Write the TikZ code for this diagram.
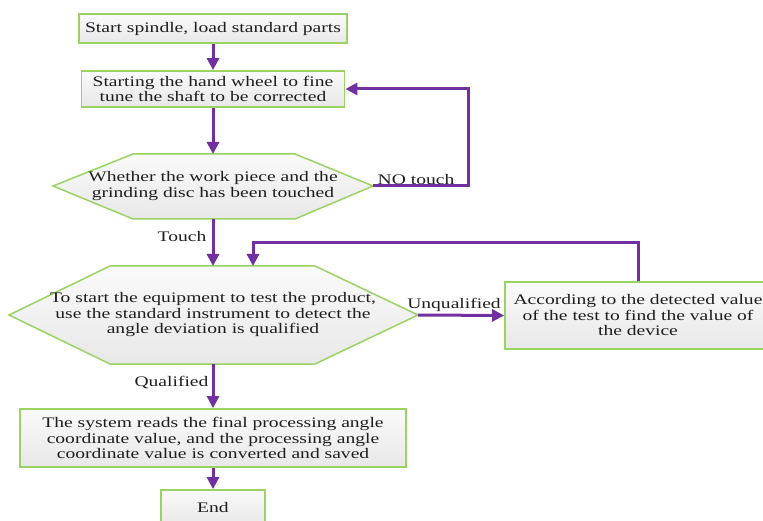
\documentclass[tikz,border=0pt]{standalone}
\usepackage{fontspec}
\setmainfont{Liberation Serif}[FakeStretch=1.34]
\usetikzlibrary{arrows.meta}
\definecolor{boxgreen}{RGB}{155,210,100}
\definecolor{flowpurple}{RGB}{112,48,160}
\definecolor{filltop}{RGB}{250,250,250}
\definecolor{fillbot}{RGB}{232,232,232}
\definecolor{txt}{RGB}{30,30,30}

\begin{document}
\begin{tikzpicture}[x=1pt,y=-1pt,
  font=\fontsize{14.6}{15.5}\selectfont, text=txt,
  stepbox/.style={draw=boxgreen, line width=1.8pt, top color=filltop, bottom color=fillbot, align=center, inner sep=0pt},
  hexbox/.style={draw=boxgreen, line width=1.5pt, top color=filltop, bottom color=fillbot},
  flow/.style={draw=flowpurple, line width=3pt, -{Triangle[length=12pt,width=12pt]}},
  lbl/.style={inner sep=0pt}]
\useasboundingbox (0,0) rectangle (763,521);

% rectangular steps
\node[stepbox, minimum width=268pt, minimum height=29pt] (b1) at (213,28.5) {Start spindle, load standard parts};
\node[stepbox, minimum width=263pt, minimum height=36pt] (b2) at (213,89) {Starting the hand wheel to fine\\tune the shaft to be corrected};
\node[stepbox, minimum width=266pt, minimum height=67pt] (b3) at (638,315.5) {According to the detected value\\of the test to find the value of\\the device};
\node[stepbox, minimum width=386pt, minimum height=58pt] (b4) at (213,438) {The system reads the final processing angle\\coordinate value, and the processing angle\\coordinate value is converted and saved};
\node[stepbox, minimum width=104pt, minimum height=36pt] (e) at (213,508) {End};

% decision hexagons
\coordinate (h1w) at (53,186);
\coordinate (h1e) at (373,186);
\coordinate (h1n) at (213,154);
\coordinate (h1s) at (213,219);
\path[hexbox] (h1w) -- (133,154) -- (295,154) -- (h1e) -- (295,219) -- (133,219) -- cycle;
\node[align=center, inner sep=0pt] (h1) at (213,186) {Whether the work piece and the\\grinding disc has been touched};

\coordinate (h2w) at (9,315);
\coordinate (h2e) at (418,315);
\coordinate (h2n) at (213,266);
\coordinate (h2f) at (253,266);
\coordinate (h2s) at (213,364);
\path[hexbox] (h2w) -- (110,266) -- (315,266) -- (h2e) -- (315,364) -- (110,364) -- cycle;
\node[align=center, inner sep=0pt] (h2) at (213,315) {To start the equipment to test the product,\\use the standard instrument to detect the\\angle deviation is qualified};

% connectors
\coordinate (nt) at (468,186);
\coordinate (fb) at (638,243);
\draw[flow] (b1.south) -- (b2.north);
\draw[flow] (b2.south) -- (h1n);
\draw[flow] (h1e) -- (nt) |- (b2.east);
\draw[flow] (h1s) -- (h2n);
\draw[flow] (b3.north) -- (fb) -| (h2f);
\draw[flow] (h2e) -- (b3.west);
\draw[flow] (h2s) -- (b4.north);
\draw[flow] (b4.south) -- (e.north);

% branch labels
\node[lbl] (lno) at (416,180) {NO touch};
\node[lbl] (lt) at (182,237) {Touch};
\node[lbl] (lu) at (454,305) {Unqualified};
\node[lbl] (lq) at (171.5,383) {Qualified};
\end{tikzpicture}
\end{document}
